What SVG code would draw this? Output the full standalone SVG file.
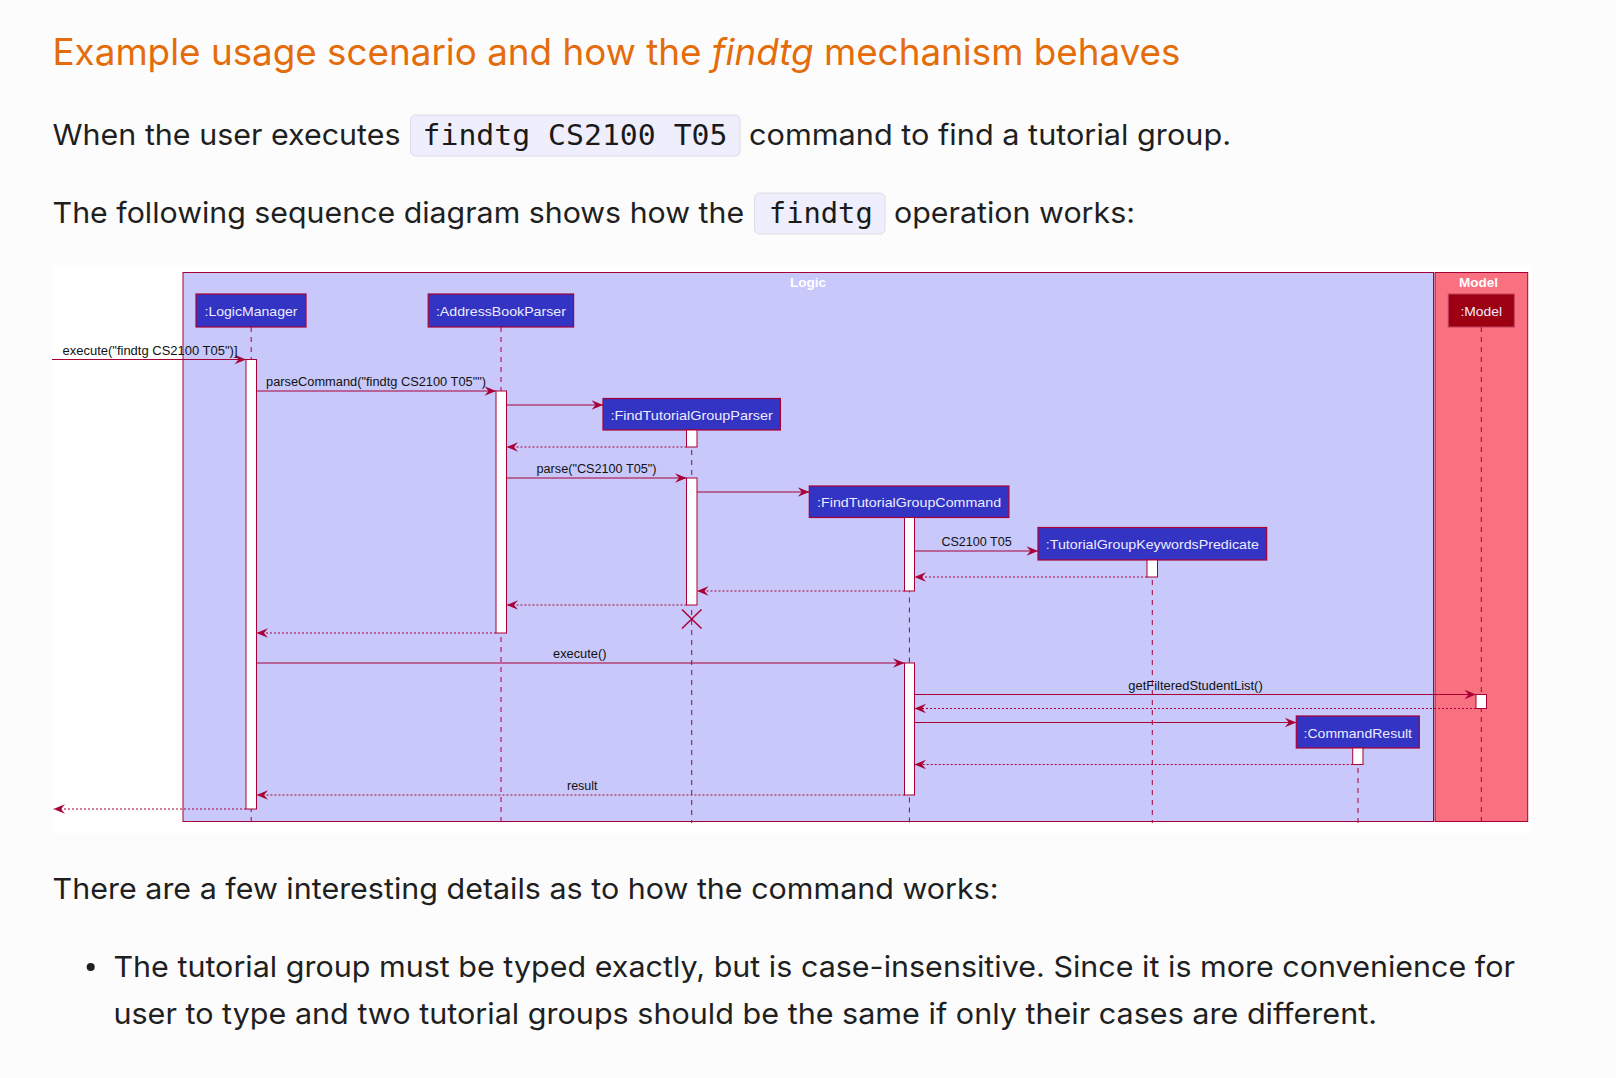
<svg xmlns="http://www.w3.org/2000/svg" width="1616" height="1078" viewBox="0 0 1616 1078">
<style>
.page{font-family:Inter,"Liberation Sans",sans-serif;fill:#1f1f1f;font-size:29px}
.h{font-family:Inter,"Liberation Sans",sans-serif;fill:#E46C0A;font-size:37px}
.mono{font-family:"DejaVu Sans Mono","Liberation Mono",monospace;font-size:29px;fill:#1a1a1a}
.code{fill:#EEEEFC;stroke:#DCDCE8;stroke-width:1}
.pbox{fill:#3333C4;stroke:#A80036;stroke-width:1.2}
.mbox{fill:#9D0012;stroke:#C0405A;stroke-width:1}
.ptxt{font-family:"Liberation Sans",Arial,sans-serif;font-size:13.5px;fill:#ECECFF;text-anchor:middle}
.life{stroke:#A80036;stroke-width:1;stroke-dasharray:5,5;fill:none}
.act{fill:#FFFFFF;stroke:#A80036;stroke-width:1}
.msg{stroke:#A80036;stroke-width:1;fill:none;marker-end:url(#ah)}
.ret{stroke:#A80036;stroke-width:1;fill:none;stroke-dasharray:2,2;marker-end:url(#ah)}
.mtxt{font-family:"Liberation Sans",Arial,sans-serif;font-size:12.5px;fill:#111}
.gt{font-family:"Liberation Sans",Arial,sans-serif;font-size:13.5px;font-weight:bold;fill:#FFFFFF;text-anchor:middle}
</style>
<defs>
<marker id="ah" markerUnits="userSpaceOnUse" markerWidth="13" markerHeight="11" refX="11.5" refY="4.75" orient="auto" overflow="visible">
<path d="M0,0 L11.5,4.75 L0,9.5 L4,4.75 Z" fill="#A80036"/>
</marker>
</defs>
<rect x="0" y="0" width="1616" height="1078" fill="#FCFCFC"/>

<g id="heading">
<text class="h" x="52.5" y="65" textLength="1128" lengthAdjust="spacingAndGlyphs">Example usage scenario and how the <tspan font-style="italic">findtg</tspan> mechanism behaves</text>
</g>

<g id="para1">
<text class="page" x="52.6" y="145" textLength="348" lengthAdjust="spacingAndGlyphs">When the user executes</text>
<rect class="code" x="410.5" y="115" width="329.5" height="41" rx="5"/>
<text class="mono" x="422.5" y="145" textLength="305" lengthAdjust="spacingAndGlyphs">findtg CS2100 T05</text>
<text class="page" x="749" y="145" textLength="482" lengthAdjust="spacingAndGlyphs">command to find a tutorial group.</text>
</g>

<g id="para2">
<text class="page" x="52.6" y="223" textLength="691.5" lengthAdjust="spacingAndGlyphs">The following sequence diagram shows how the</text>
<rect class="code" x="754.5" y="193" width="130.5" height="41" rx="5"/>
<text class="mono" x="768.8" y="223" textLength="104" lengthAdjust="spacingAndGlyphs">findtg</text>
<text class="page" x="894" y="223" textLength="241" lengthAdjust="spacingAndGlyphs">operation works:</text>
</g>

<g id="diagram">
<rect x="52" y="265" width="1480" height="568" fill="#FFFFFF"/>
<g id="logic-box">
<rect x="183" y="272.5" width="1250.5" height="549" fill="#C8C8FA" stroke="#A80036" stroke-width="1"/>
<text class="gt" x="808" y="287">Logic</text>
</g>
<g id="model-box">
<rect x="1435" y="272.5" width="92.7" height="549" fill="#F97181" stroke="#A80036" stroke-width="1"/>
<text class="gt" x="1478.5" y="287">Model</text>
</g>

<g id="lifelines">
<line class="life" x1="251.2" y1="327" x2="251.2" y2="823"/>
<line class="life" x1="501" y1="327" x2="501" y2="823"/>
<line class="life" x1="691.7" y1="430" x2="691.7" y2="823"/>
<line class="life" x1="909.4" y1="517.5" x2="909.4" y2="823"/>
<line class="life" x1="1152.3" y1="560" x2="1152.3" y2="823"/>
<line class="life" x1="1358" y1="748" x2="1358" y2="823"/>
<line class="life" x1="1481.3" y1="327" x2="1481.3" y2="823"/>
</g>

<g id="p-logicmanager">
<rect class="pbox" x="196" y="294" width="110" height="33"/>
<text class="ptxt" x="251" y="315.5" textLength="93" lengthAdjust="spacingAndGlyphs">:LogicManager</text>
</g>
<g id="p-addressbookparser">
<rect class="pbox" x="428.2" y="294" width="145.4" height="33"/>
<text class="ptxt" x="500.9" y="315.5" textLength="130" lengthAdjust="spacingAndGlyphs">:AddressBookParser</text>
</g>
<g id="p-findtutorialgroupparser">
<rect class="pbox" x="603" y="398.5" width="177.4" height="31.5"/>
<text class="ptxt" x="691.7" y="419.5" textLength="162.5" lengthAdjust="spacingAndGlyphs">:FindTutorialGroupParser</text>
</g>
<g id="p-findtutorialgroupcommand">
<rect class="pbox" x="809.3" y="486" width="199.6" height="31.5"/>
<text class="ptxt" x="909.1" y="507" textLength="184" lengthAdjust="spacingAndGlyphs">:FindTutorialGroupCommand</text>
</g>
<g id="p-tutorialgroupkeywordspredicate">
<rect class="pbox" x="1038" y="527.5" width="228.7" height="32.5"/>
<text class="ptxt" x="1152.3" y="549" textLength="213" lengthAdjust="spacingAndGlyphs">:TutorialGroupKeywordsPredicate</text>
</g>
<g id="p-commandresult">
<rect class="pbox" x="1296.3" y="716" width="123" height="32"/>
<text class="ptxt" x="1357.8" y="737.5" textLength="108.4" lengthAdjust="spacingAndGlyphs">:CommandResult</text>
</g>
<g id="p-model">
<rect class="mbox" x="1448.3" y="294" width="66" height="33"/>
<text class="ptxt" x="1481.3" y="315.5" textLength="41.7" lengthAdjust="spacingAndGlyphs">:Model</text>
</g>

<g id="activations">
<rect class="act" x="246" y="359.5" width="10.5" height="449.5"/>
<rect class="act" x="496" y="391" width="10.5" height="242"/>
<rect class="act" x="686.5" y="430" width="10.5" height="17"/>
<rect class="act" x="686.5" y="478" width="10.5" height="127"/>
<rect class="act" x="904.5" y="517.5" width="10" height="73.5"/>
<rect class="act" x="1147" y="560" width="10.5" height="17"/>
<rect class="act" x="904.5" y="663" width="10" height="132"/>
<rect class="act" x="1476" y="694.5" width="10.5" height="14"/>
<rect class="act" x="1352.7" y="748" width="10.3" height="16.5"/>
</g>

<g id="connectors">
<line class="msg" x1="52" y1="359.5" x2="246" y2="359.5"/>
<text class="mtxt" x="62.5" y="355" textLength="175" lengthAdjust="spacingAndGlyphs">execute("findtg CS2100 T05")]</text>
<line class="msg" x1="256.5" y1="391" x2="496" y2="391"/>
<text class="mtxt" x="266" y="385.5" textLength="220" lengthAdjust="spacingAndGlyphs">parseCommand("findtg CS2100 T05"")</text>
<line class="msg" x1="506.5" y1="405" x2="603" y2="405"/>
<line class="ret" x1="686.5" y1="447" x2="506.5" y2="447"/>
<line class="msg" x1="506.5" y1="478" x2="686.5" y2="478"/>
<text class="mtxt" x="536.5" y="472.5" textLength="120" lengthAdjust="spacingAndGlyphs">parse("CS2100 T05")</text>
<line class="msg" x1="697" y1="492" x2="809.3" y2="492"/>
<line class="msg" x1="914.5" y1="551" x2="1038" y2="551"/>
<text class="mtxt" x="941.4" y="545.5" textLength="70.4" lengthAdjust="spacingAndGlyphs">CS2100 T05</text>
<line class="ret" x1="1147" y1="577" x2="914.5" y2="577"/>
<line class="ret" x1="904.5" y1="591" x2="697" y2="591"/>
<line class="ret" x1="686.5" y1="605" x2="506.5" y2="605"/>
<path d="M682,609.5 L701.5,628.5 M701.5,609.5 L682,628.5" stroke="#A80036" stroke-width="1.5" fill="none"/>
<line class="ret" x1="496" y1="633" x2="256.5" y2="633"/>
<line class="msg" x1="256.5" y1="663" x2="904.5" y2="663"/>
<text class="mtxt" x="553" y="658" textLength="53.5" lengthAdjust="spacingAndGlyphs">execute()</text>
<line class="msg" x1="914.5" y1="694.5" x2="1476" y2="694.5"/>
<text class="mtxt" x="1128.3" y="689.5" textLength="134.4" lengthAdjust="spacingAndGlyphs">getFilteredStudentList()</text>
<line class="ret" x1="1476" y1="708.5" x2="914.5" y2="708.5"/>
<line class="msg" x1="914.5" y1="722.5" x2="1296.3" y2="722.5"/>
<line class="ret" x1="1352.7" y1="764.5" x2="914.5" y2="764.5"/>
<line class="ret" x1="904.5" y1="795" x2="256.5" y2="795"/>
<text class="mtxt" x="567" y="789.5" textLength="30.5" lengthAdjust="spacingAndGlyphs">result</text>
<line class="ret" x1="246" y1="809" x2="53.5" y2="809"/>
</g>
</g>

<g id="para3">
<text class="page" x="52.6" y="899" textLength="946" lengthAdjust="spacingAndGlyphs">There are a few interesting details as to how the command works:</text>
</g>
<g id="bullet">
<circle cx="90.7" cy="967" r="4" fill="#1f1f1f"/>
<text class="page" x="113.4" y="977" textLength="1401.6" lengthAdjust="spacingAndGlyphs">The tutorial group must be typed exactly, but is case-insensitive. Since it is more convenience for</text>
<text class="page" x="113.4" y="1023.5" textLength="1263.6" lengthAdjust="spacingAndGlyphs">user to type and two tutorial groups should be the same if only their cases are different.</text>
</g>
</svg>
